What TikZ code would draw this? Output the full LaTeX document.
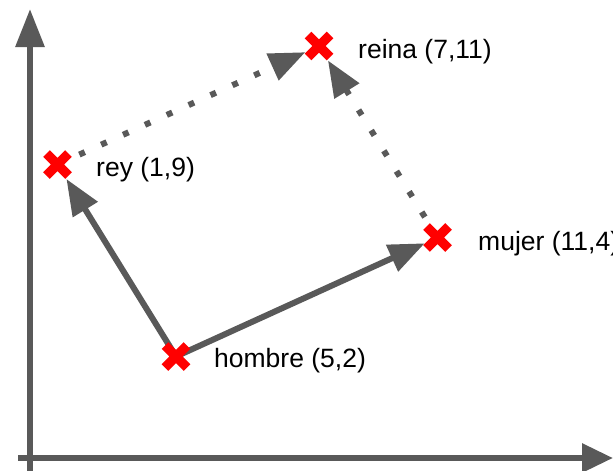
\documentclass[tikz,border=0pt]{standalone}
\usepackage{fontspec}
\setmainfont{Liberation Sans}
\usetikzlibrary{arrows.meta,shapes.misc}
\definecolor{axisgray}{RGB}{89,89,89}
\begin{document}
\begin{tikzpicture}[x=1pt,y=-1pt,
  axisline/.style={draw=axisgray,line width=6pt},
  vec/.style={draw=axisgray,line width=6pt,-{Triangle[length=36pt,width=28pt]}},
  dotvec/.style={vec,dash pattern=on 6pt off 18pt},
  xmark/.style={cross out,draw=red,line width=9.5pt,minimum size=22pt,inner sep=0pt,outer sep=0pt},
  lbl/.style={anchor=west,inner sep=0pt,font=\fontsize{26.5}{30}\selectfont,text=black}]
\useasboundingbox (0,0) rectangle (613,471);
% axes
\coordinate (ybot) at (30,471);
\coordinate (ytop) at (30,9);
\coordinate (xleft) at (18,458);
\coordinate (xright) at (613,458);
\draw[axisline,-{Triangle[length=38pt,width=28pt]}] (ybot) -- (ytop);
\draw[axisline,-{Triangle[length=31pt,width=28pt]}] (xleft) -- (xright);
% points
\coordinate (rey) at (57.5,164.5);
\coordinate (reina) at (319,46);
\coordinate (mujer) at (437.5,237.5);
\coordinate (hombre) at (176,356.5);
% vectors
\draw[vec,shorten >=17pt] (hombre) -- (rey);
\draw[vec,shorten >=14pt] (hombre) -- (mujer);
\draw[dotvec,shorten >=15pt] (rey) -- (reina);
\draw[dotvec,shorten >=17pt] (mujer) -- (reina);
% markers
\node[xmark] (reym) at (rey) {};
\node[xmark] (reinam) at (reina) {};
\node[xmark] (mujerm) at (mujer) {};
\node[xmark] (hombrem) at (hombre) {};
% labels
\node[lbl] (reinal) at (358,52) {reina (7,11)};
\node[lbl] (reyl) at (96,170) {rey (1,9)};
\node[lbl] (mujerl) at (478,244) {mujer (11,4)};
\node[lbl] (hombrel) at (214,361) {hombre (5,2)};
\end{tikzpicture}
\end{document}
